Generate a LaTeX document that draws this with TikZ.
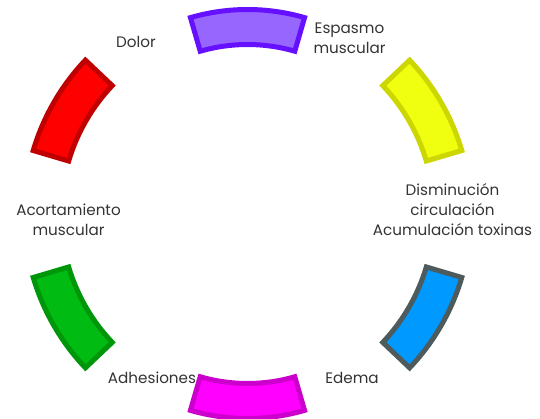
\documentclass[tikz,border=0pt]{standalone}
\usepackage{fontspec}
\setmainfont{Poppins}
\definecolor{purpfill}{RGB}{150,102,255}
\definecolor{purpline}{RGB}{102,16,255}
\definecolor{yelfill}{RGB}{240,255,16}
\definecolor{yelline}{RGB}{204,214,0}
\definecolor{bluefill}{RGB}{0,153,255}
\definecolor{blueline}{RGB}{77,91,92}
\definecolor{magfill}{RGB}{255,0,255}
\definecolor{magline}{RGB}{204,0,204}
\definecolor{grnfill}{RGB}{0,187,17}
\definecolor{grnline}{RGB}{0,150,10}
\definecolor{redfill}{RGB}{255,0,0}
\definecolor{redline}{RGB}{192,0,0}
\tikzset{
  lbl/.style={align=center, text=black!80, font=\fontsize{15.2}{20}\selectfont, inner sep=0pt}
}
\begin{document}
\begin{tikzpicture}[x=1pt,y=1pt]
        \useasboundingbox (0,0) rectangle (540,419);
        \coordinate (c) at (247.5,205);

        % Segments
        \foreach \a/\w/\ri/\ro/\f/\d in {90/16.2/169.5/204.5/purpfill/purpline,
                                         30/13.5/186.5/223.5/yelfill/yelline,
                                         -30/13.5/186.5/223.5/bluefill/blueline,
                                         -90/16.2/169.5/204.5/magfill/magline,
                                         -150/13.5/186.5/223.5/grnfill/grnline,
                                         150/13.5/186.5/223.5/redfill/redline}
            \filldraw[line width=5pt, fill=\f, draw=\d]
                ([shift={(c)}]\a-\w:\ro) arc[start angle=\a-\w, end angle=\a+\w, radius=\ro]
                -- ([shift={(c)}]\a+\w:\ri) arc[start angle=\a+\w, end angle=\a-\w, radius=\ri]
                -- cycle;

        % Labels
        \node[lbl] (dolor) at (136,377) {Dolor};
        \node[lbl] (espasmo) at (349.5,380.5) {Espasmo\\muscular};
        \node[lbl] (disminucion) at (452.5,209) {Disminución\\circulación\\Acumulación toxinas};
        \node[lbl] (acortamiento) at (68.5,199) {Acortamiento\\muscular};
        \node[lbl] (adhesiones) at (152,41) {Adhesiones};
        \node[lbl] (edema) at (352,41) {Edema};
    \end{tikzpicture}
\end{document}
